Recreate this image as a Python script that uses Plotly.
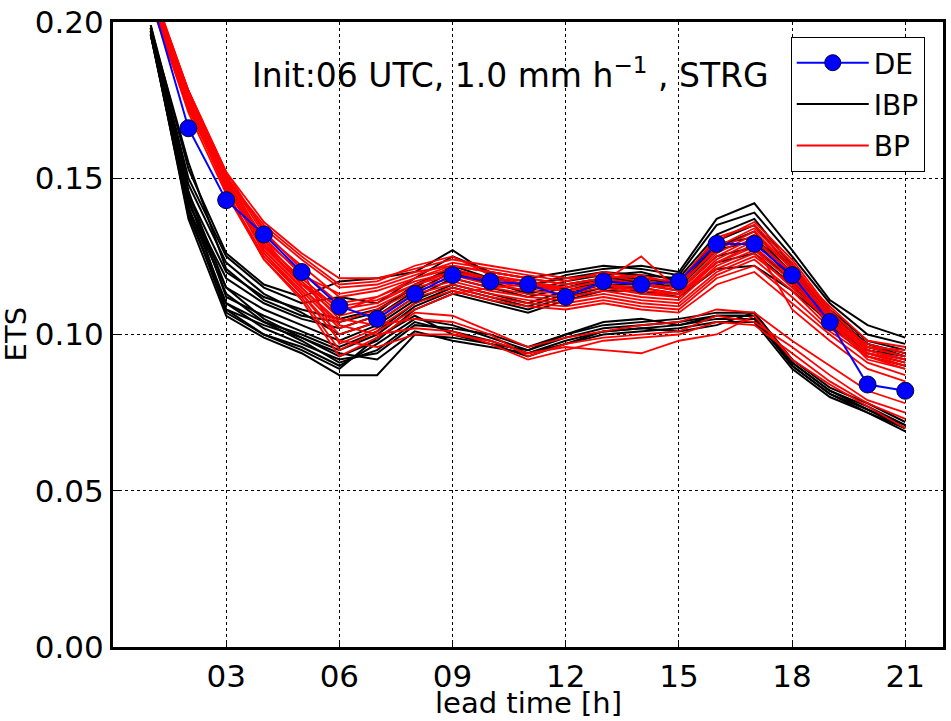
import plotly.graph_objects as go

hours = list(range(1, 22))

de = [0.208, 0.166, 0.143, 0.132, 0.120, 0.109, 0.105, 0.113, 0.119, 0.117, 0.116,
      0.112, 0.117, 0.116, 0.117, 0.129, 0.129, 0.119, 0.104, 0.084, 0.082]

ibp = [
    [0.198, 0.150, 0.125, 0.115, 0.110, 0.112, 0.110, 0.118, 0.125, 0.120, 0.118, 0.120, 0.122, 0.121, 0.119, 0.135, 0.139, 0.125, 0.110, 0.100, 0.097],
    [0.197, 0.145, 0.120, 0.112, 0.108, 0.105, 0.108, 0.115, 0.122, 0.118, 0.116, 0.118, 0.120, 0.119, 0.118, 0.132, 0.137, 0.122, 0.108, 0.098, 0.095],
    [0.196, 0.142, 0.118, 0.110, 0.105, 0.102, 0.106, 0.114, 0.120, 0.116, 0.114, 0.117, 0.119, 0.120, 0.117, 0.130, 0.135, 0.121, 0.107, 0.097, 0.094],
    [0.199, 0.148, 0.123, 0.113, 0.107, 0.100, 0.104, 0.112, 0.118, 0.115, 0.112, 0.115, 0.118, 0.118, 0.116, 0.128, 0.133, 0.119, 0.106, 0.096, 0.093],
    [0.197, 0.140, 0.115, 0.108, 0.103, 0.098, 0.103, 0.111, 0.116, 0.113, 0.110, 0.114, 0.117, 0.117, 0.115, 0.127, 0.130, 0.118, 0.105, 0.095, 0.092],
    [0.198, 0.146, 0.112, 0.106, 0.101, 0.096, 0.101, 0.110, 0.115, 0.112, 0.109, 0.113, 0.116, 0.116, 0.114, 0.125, 0.128, 0.117, 0.104, 0.094, 0.091],
    [0.196, 0.138, 0.110, 0.104, 0.100, 0.095, 0.100, 0.109, 0.114, 0.111, 0.108, 0.112, 0.115, 0.115, 0.113, 0.123, 0.126, 0.116, 0.103, 0.093, 0.090],
    [0.197, 0.144, 0.108, 0.103, 0.099, 0.093, 0.098, 0.108, 0.113, 0.110, 0.107, 0.111, 0.114, 0.114, 0.112, 0.121, 0.122, 0.114, 0.104, 0.095, 0.093],
    [0.199, 0.153, 0.126, 0.116, 0.112, 0.117, 0.118, 0.120, 0.127, 0.119, 0.115, 0.119, 0.121, 0.122, 0.120, 0.137, 0.142, 0.127, 0.111, 0.103, 0.099],
    [0.198, 0.155, 0.121, 0.111, 0.106, 0.104, 0.107, 0.116, 0.121, 0.117, 0.113, 0.116, 0.118, 0.117, 0.116, 0.129, 0.131, 0.120, 0.106, 0.097, 0.093],
    [0.197, 0.141, 0.110, 0.102, 0.097, 0.092, 0.094, 0.103, 0.102, 0.100, 0.096, 0.100, 0.103, 0.104, 0.105, 0.107, 0.107, 0.092, 0.083, 0.078, 0.072],
    [0.196, 0.139, 0.108, 0.100, 0.096, 0.090, 0.097, 0.105, 0.103, 0.099, 0.095, 0.099, 0.102, 0.103, 0.104, 0.106, 0.106, 0.091, 0.082, 0.077, 0.071],
    [0.198, 0.143, 0.113, 0.104, 0.098, 0.091, 0.095, 0.104, 0.101, 0.098, 0.094, 0.098, 0.101, 0.102, 0.103, 0.105, 0.105, 0.090, 0.081, 0.076, 0.070],
    [0.197, 0.137, 0.106, 0.099, 0.094, 0.087, 0.087, 0.100, 0.099, 0.097, 0.093, 0.097, 0.100, 0.101, 0.102, 0.104, 0.104, 0.089, 0.080, 0.075, 0.069],
    [0.196, 0.140, 0.107, 0.100, 0.095, 0.089, 0.099, 0.106, 0.100, 0.097, 0.095, 0.100, 0.104, 0.105, 0.103, 0.106, 0.106, 0.090, 0.081, 0.075, 0.070],
    [0.198, 0.145, 0.115, 0.105, 0.099, 0.094, 0.092, 0.101, 0.098, 0.096, 0.094, 0.097, 0.101, 0.102, 0.101, 0.103, 0.107, 0.091, 0.082, 0.076, 0.071],
]

bp = [
    [0.210, 0.178, 0.152, 0.136, 0.126, 0.118, 0.118, 0.121, 0.124, 0.122, 0.120, 0.118, 0.119, 0.117, 0.116, 0.130, 0.136, 0.124, 0.108, 0.096, 0.093],
    [0.208, 0.176, 0.150, 0.134, 0.124, 0.115, 0.116, 0.120, 0.122, 0.120, 0.118, 0.116, 0.118, 0.116, 0.115, 0.128, 0.134, 0.122, 0.107, 0.095, 0.092],
    [0.212, 0.178, 0.151, 0.132, 0.122, 0.112, 0.114, 0.118, 0.121, 0.118, 0.117, 0.115, 0.117, 0.125, 0.114, 0.126, 0.132, 0.121, 0.106, 0.094, 0.091],
    [0.207, 0.173, 0.149, 0.130, 0.120, 0.110, 0.112, 0.117, 0.120, 0.117, 0.115, 0.114, 0.116, 0.114, 0.113, 0.124, 0.130, 0.120, 0.105, 0.093, 0.090],
    [0.209, 0.175, 0.148, 0.129, 0.118, 0.108, 0.110, 0.116, 0.119, 0.116, 0.114, 0.113, 0.115, 0.113, 0.112, 0.123, 0.128, 0.118, 0.104, 0.092, 0.089],
    [0.211, 0.177, 0.150, 0.128, 0.116, 0.106, 0.109, 0.115, 0.118, 0.115, 0.113, 0.112, 0.114, 0.112, 0.111, 0.122, 0.127, 0.117, 0.103, 0.096, 0.095],
    [0.206, 0.172, 0.147, 0.127, 0.115, 0.104, 0.108, 0.114, 0.117, 0.114, 0.112, 0.111, 0.113, 0.111, 0.110, 0.120, 0.125, 0.116, 0.105, 0.097, 0.094],
    [0.210, 0.176, 0.150, 0.126, 0.114, 0.102, 0.106, 0.113, 0.116, 0.113, 0.111, 0.110, 0.112, 0.110, 0.109, 0.119, 0.124, 0.114, 0.102, 0.094, 0.092],
    [0.208, 0.174, 0.146, 0.125, 0.113, 0.100, 0.104, 0.112, 0.115, 0.112, 0.110, 0.109, 0.111, 0.109, 0.108, 0.118, 0.122, 0.112, 0.101, 0.093, 0.089],
    [0.212, 0.178, 0.152, 0.133, 0.121, 0.097, 0.102, 0.110, 0.114, 0.111, 0.109, 0.108, 0.110, 0.108, 0.107, 0.116, 0.120, 0.110, 0.100, 0.091, 0.087],
    [0.209, 0.175, 0.149, 0.131, 0.119, 0.113, 0.115, 0.119, 0.123, 0.121, 0.119, 0.117, 0.120, 0.118, 0.117, 0.131, 0.135, 0.123, 0.107, 0.095, 0.092],
    [0.207, 0.171, 0.145, 0.124, 0.112, 0.095, 0.101, 0.108, 0.113, 0.115, 0.116, 0.115, 0.117, 0.116, 0.114, 0.125, 0.131, 0.119, 0.106, 0.094, 0.090],
    [0.211, 0.177, 0.150, 0.135, 0.125, 0.116, 0.117, 0.122, 0.125, 0.119, 0.117, 0.114, 0.116, 0.115, 0.113, 0.121, 0.126, 0.115, 0.104, 0.096, 0.093],
    [0.208, 0.174, 0.147, 0.128, 0.117, 0.105, 0.103, 0.105, 0.104, 0.100, 0.093, 0.097, 0.099, 0.100, 0.101, 0.106, 0.104, 0.096, 0.087, 0.079, 0.075],
    [0.210, 0.176, 0.149, 0.127, 0.115, 0.103, 0.100, 0.102, 0.101, 0.097, 0.092, 0.095, 0.098, 0.099, 0.100, 0.104, 0.103, 0.094, 0.085, 0.078, 0.073],
    [0.209, 0.175, 0.148, 0.126, 0.113, 0.098, 0.096, 0.100, 0.100, 0.098, 0.094, 0.096, 0.095, 0.094, 0.098, 0.100, 0.106, 0.092, 0.084, 0.077, 0.070],
    [0.207, 0.173, 0.146, 0.124, 0.111, 0.093, 0.099, 0.107, 0.106, 0.101, 0.096, 0.099, 0.101, 0.103, 0.104, 0.108, 0.107, 0.098, 0.090, 0.082, 0.078],
    [0.211, 0.178, 0.151, 0.130, 0.117, 0.107, 0.112, 0.118, 0.122, 0.120, 0.118, 0.116, 0.118, 0.119, 0.116, 0.127, 0.133, 0.121, 0.109, 0.098, 0.096],
    [0.209, 0.176, 0.150, 0.129, 0.116, 0.109, 0.111, 0.116, 0.120, 0.118, 0.116, 0.114, 0.116, 0.113, 0.113, 0.123, 0.129, 0.108, 0.098, 0.089, 0.085],
]

x_tickvals = [3, 6, 9, 12, 15, 18, 21]
x_ticktext = ["03", "06", "09", "12", "15", "18", "21"]
y_tickvals = [0.0, 0.05, 0.10, 0.15, 0.20]
y_ticktext = ["0.00", "0.05", "0.10", "0.15", "0.20"]

FONT = "DejaVu Sans"

fig = go.Figure()

for i, s in enumerate(ibp):
    fig.add_trace(go.Scatter(x=hours, y=s, mode="lines",
                             line=dict(color="black", width=2),
                             name="IBP", showlegend=(i == 0), legendrank=2,
                             legendgroup="ibp", hoverinfo="skip"))
for i, s in enumerate(bp):
    fig.add_trace(go.Scatter(x=hours, y=s, mode="lines",
                             line=dict(color="#ff0000", width=1.8),
                             name="BP", showlegend=(i == 0), legendrank=3,
                             legendgroup="bp", hoverinfo="skip"))
fig.add_trace(go.Scatter(x=hours, y=de, mode="lines+markers",
                         line=dict(color="#0000ff", width=2),
                         marker=dict(size=17, color="#0000ff",
                                     line=dict(color="#000033", width=1)),
                         name="DE", legendrank=1, legendgroup="de"))

fig.add_annotation(x=0.165, y=0.918, xref="paper", yref="paper",
                   xanchor="left", yanchor="middle", showarrow=False,
                   text="Init:06 UTC, 1.0 mm h<sup>\u22121</sup> , STRG",
                   font=dict(family=FONT, size=33, color="black"))

# axis titles as annotations for precise placement
fig.add_annotation(x=0.5, y=-0.09, xref="paper", yref="paper",
                   xanchor="center", yanchor="middle", showarrow=False,
                   text="lead time [h]",
                   font=dict(family=FONT, size=29, color="black"))
fig.add_annotation(x=-0.117, y=0.5, xref="paper", yref="paper",
                   xanchor="center", yanchor="middle", showarrow=False,
                   text="ETS", textangle=-90,
                   font=dict(family=FONT, size=29, color="black"))

axis_common = dict(showline=True, linecolor="black", linewidth=3, mirror=True,
                   showgrid=True, gridcolor="black", gridwidth=1, griddash="dot",
                   ticks="inside", ticklen=6, tickcolor="black", tickwidth=1,
                   zeroline=False, automargin=False, ticklabeloverflow="allow",
                   tickfont=dict(family=FONT, size=31, color="black"))

fig.update_xaxes(range=[0, 22], tickmode="array", tickvals=x_tickvals,
                 ticktext=x_ticktext, ticklabelstandoff=0, **axis_common)
fig.update_yaxes(range=[0, 0.2], tickmode="array", tickvals=y_tickvals,
                 ticktext=y_ticktext, ticklabelstandoff=0, **axis_common)

fig.update_layout(
    width=951, height=721,
    margin=dict(l=113, r=8, t=22, b=74, autoexpand=False),
    paper_bgcolor="white", plot_bgcolor="white",
    showlegend=True,
    legend=dict(x=0.978, y=0.976, xanchor="right", yanchor="top",
                bgcolor="white", bordercolor="black", borderwidth=1,
                font=dict(family=FONT, size=28, color="black"),
                itemwidth=72, tracegroupgap=2),
)

# remove the default page margin so the figure fills the window exactly
fig.write_html("out.html",
               config={"displayModeBar": False},
               post_script="document.body.style.margin='0';"
                           "document.body.style.overflow='hidden';")
